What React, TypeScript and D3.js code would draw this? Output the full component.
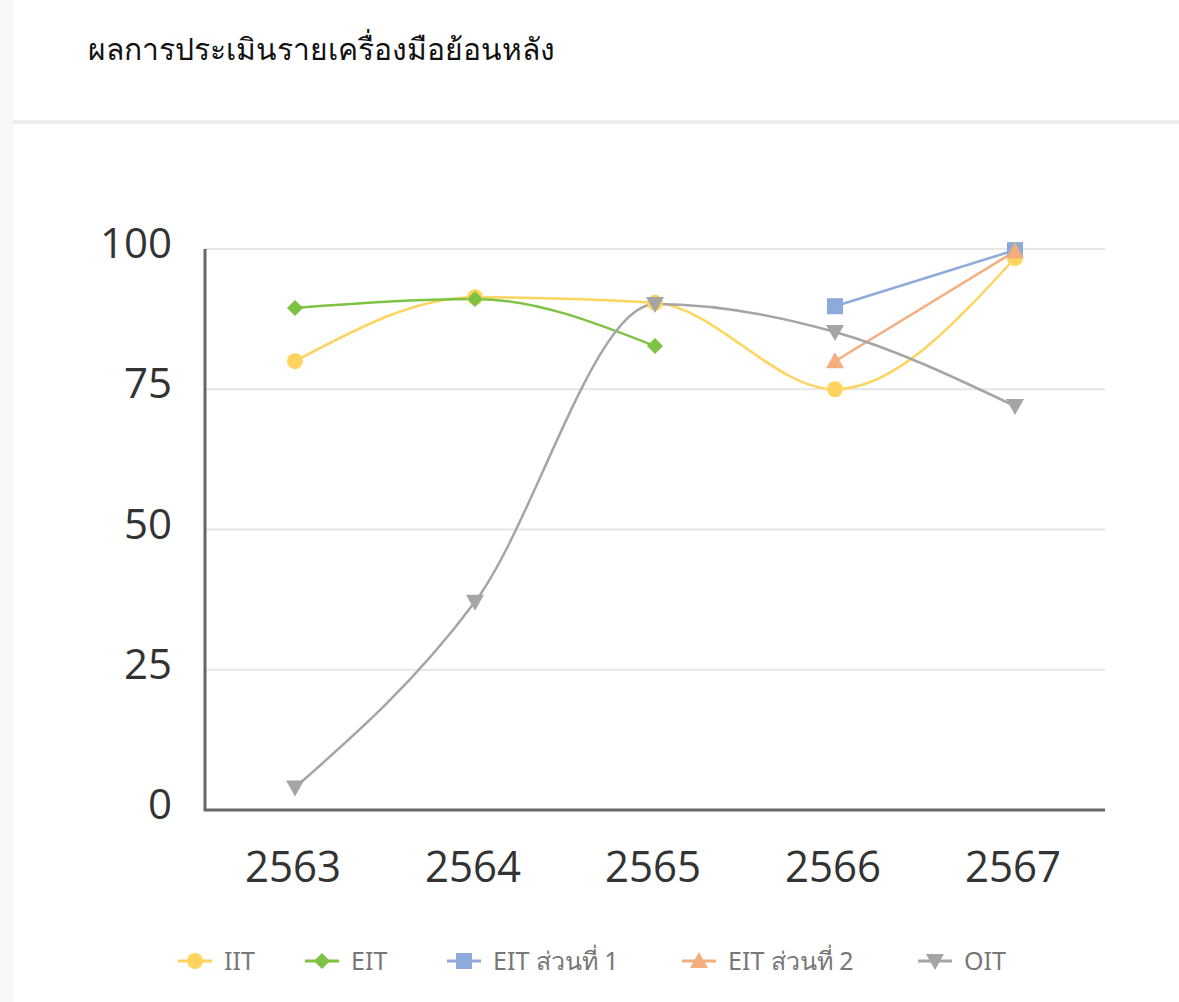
import React from "react";
import * as d3 from "d3";

const years = ["2563", "2564", "2565", "2566", "2567"];
const yTicks = [0, 25, 50, 75, 100];
const iit: (number | null)[] = [80, 91.4, 90.4, 75, 98.4];
const eit: (number | null)[] = [89.5, 91.1, 82.7, null, null];
const eit1: (number | null)[] = [null, null, null, 89.8, 99.8];
const eit2: (number | null)[] = [null, null, null, 80, 99.6];
const oit: (number | null)[] = [4, 37.1, 90.2, 85.2, 72];

const seriesNames = ["IIT", "EIT", "EIT ส่วนที่ 1", "EIT ส่วนที่ 2", "OIT"];
const seriesColors = ["#ffd45e", "#7dc243", "#8eaadb", "#f4ae7e", "#a5a5a5"];
const seriesShapes = ["circle", "diamond", "square", "triangle", "triangleDown"];
const seriesData = [iit, eit, eit1, eit2, oit];
const legendX = [178, 305, 447, 682, 918];

const W = 1179;
const H = 1002;
const margin = { left: 205, right: 1105, top: 249, bottom: 810 };

function Marker({ shape, x, y, color }: { shape: string; x: number; y: number; color: string }) {
  if (shape === "circle") return <circle cx={x} cy={y} r={8} fill={color} />;
  if (shape === "diamond")
    return <path d={`M${x},${y - 8}L${x + 8},${y}L${x},${y + 8}L${x - 8},${y}Z`} fill={color} />;
  if (shape === "square") return <rect x={x - 8} y={y - 8} width={16} height={16} fill={color} />;
  if (shape === "triangle")
    return <path d={`M${x},${y - 9}L${x + 9},${y + 7}L${x - 9},${y + 7}Z`} fill={color} />;
  return <path d={`M${x - 9},${y - 7}L${x + 9},${y - 7}L${x},${y + 9}Z`} fill={color} />;
}

export default function App() {
  const x = d3.scaleBand<string>().domain(years).range([margin.left, margin.right]);
  const y = d3.scaleLinear().domain([0, 100]).range([margin.bottom, margin.top]);
  const cx = (yr: string) => (x(yr) as number) + x.bandwidth() / 2;

  const line = d3
    .line<{ yr: string; v: number | null }>()
    .defined((d) => d.v !== null)
    .x((d) => cx(d.yr))
    .y((d) => y(d.v as number))
    .curve(d3.curveMonotoneX);

  return (
    <svg
      width={W}
      height={H}
      style={{ position: "absolute", left: 0, top: 0, background: "#fff" }}
      fontFamily="'Noto Sans', 'Open Sans', sans-serif"
    >
      <rect x={0} y={0} width={13} height={H} fill="#f7f7f7" />
      <rect x={13} y={120} width={W - 13} height={4} fill="#ececec" />
      <text x={88} y={60} fontSize={30} fill="#111">
        ผลการประเมินรายเครื่องมือย้อนหลัง
      </text>

      {yTicks.map((t) => (
        <g key={t}>
          {t > 0 && (
            <line x1={margin.left} x2={margin.right} y1={y(t)} y2={y(t)} stroke="#e6e6e6" strokeWidth={2} />
          )}
          <text
            x={172}
            y={y(t) + 9}
            textAnchor="end"
            fontSize={42}
            fill="#333"
            fontFamily="'Open Sans', sans-serif"
          >
            {t}
          </text>
        </g>
      ))}

      <path
        d={`M${margin.left},${margin.top}V${margin.bottom}H${margin.right}`}
        fill="none"
        stroke="#666"
        strokeWidth={3}
      />

      {years.map((yr) => (
        <text
          key={yr}
          x={cx(yr) - 2}
          y={882}
          textAnchor="middle"
          fontSize={43}
          fill="#333"
          fontFamily="'Open Sans', sans-serif"
          textLength={96}
          lengthAdjust="spacingAndGlyphs"
        >
          {yr}
        </text>
      ))}

      {seriesData.map((data, i) => (
        <path
          key={i}
          d={line(years.map((yr, j) => ({ yr, v: data[j] }))) || ""}
          fill="none"
          stroke={seriesColors[i]}
          strokeWidth={2.5}
        />
      ))}
      {seriesData.map((data, i) =>
        years.map((yr, j) =>
          data[j] === null ? null : (
            <Marker key={`${i}-${j}`} shape={seriesShapes[i]} x={cx(yr)} y={y(data[j] as number)} color={seriesColors[i]} />
          )
        )
      )}

      {seriesNames.map((n, i) => (
        <g key={n} transform={`translate(${legendX[i]},961)`}>
          <line x1={0} x2={34} y1={0} y2={0} stroke={seriesColors[i]} strokeWidth={3} />
          <Marker shape={seriesShapes[i]} x={17} y={0} color={seriesColors[i]} />
          <text x={46} y={9} fontSize={25} fill="#777">
            {n}
          </text>
        </g>
      ))}
    </svg>
  );
}
